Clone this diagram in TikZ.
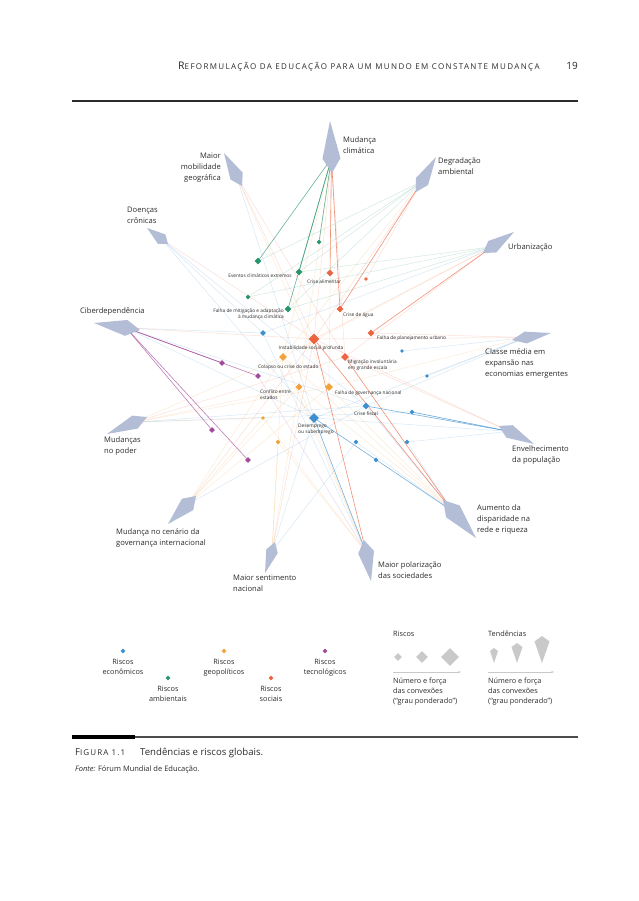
\documentclass[tikz,border=0pt]{standalone}
\usepackage{fontspec}
\setmainfont{Open Sans}
\usetikzlibrary{shapes.geometric, arrows.meta, positioning, calc}

\definecolor{coreco}{HTML}{3D8FCF}
\definecolor{coramb}{HTML}{27956B}
\definecolor{corgeo}{HTML}{F2A23A}
\definecolor{corsoc}{HTML}{EC6440}
\definecolor{cortec}{HTML}{A3489A}
\definecolor{cortend}{HTML}{B3BDD6}
\definecolor{corleg}{HTML}{C9C9C9}
\definecolor{cortexto}{HTML}{2B2B2B}

\pgfdeclarelayer{fundo}
\pgfdeclarelayer{linhas}
\pgfsetlayers{fundo,linhas,main}

% kite de tendência: nome, estilo, ponta, base, meia largura, fração
\newcommand{\tendencia}[6]{%
  \coordinate (#1) at ($#4!#6!#3$);
  \fill[#2] #3 -- ($#4!#6!#3!#5!90:#3$) -- #4 -- ($#4!#6!#3!#5!-90:#3$) -- cycle;
}
\newcommand{\versal}[4]{{\addfontfeature{LetterSpace=#4}\fontsize{#3}{12}\selectfont #1\fontsize{8}{10}\selectfont #2}}

\begin{document}
\begin{tikzpicture}[x=1pt, y=-1pt, text=cortexto,
    risco/.style = {diamond, inner sep=0pt, draw=none, minimum size=7pt},
    eco/.style = {risco, fill=coreco},
    amb/.style = {risco, fill=coramb},
    geo/.style = {risco, fill=corgeo},
    soc/.style = {risco, fill=corsoc},
    tec/.style = {risco, fill=cortec},
    tend/.style = {fill=cortend},
    rotulo/.style = {inner sep=0pt, font=\fontsize{7.6}{11}\selectfont, align=left},
    minirot/.style = {inner sep=0pt, font=\fontsize{4.8}{6}\selectfont, align=left},
    legtexto/.style = {inner sep=0pt, font=\fontsize{7.3}{10}\selectfont, align=center},
    fraco/.style = {line width=0.5pt, draw opacity=0.2},
    forte/.style = {line width=0.6pt, draw opacity=0.7},
    seta/.style = {corleg, line width=0.6pt, -{Stealth[length=3pt]}}
    ]

    \begin{pgfonlayer}{fundo}
      \fill[white] (0,0) rectangle (638,901);
    \end{pgfonlayer}
    \useasboundingbox (0,0) rectangle (638,901);

    % --- Cabeçalho ---
    \node[anchor=base west, inner sep=0pt] (titulo) at (178,70)
      {\versal{R}{EFORMULAÇÃO DA EDUCAÇÃO PARA UM MUNDO EM CONSTANTE MUDANÇA}{10.5}{17}};
    \node[anchor=base east, inner sep=0pt, font=\fontsize{10}{12}\selectfont] (pagina) at (578,70) {19};
    \draw[cortexto, line width=1.4pt] (72,101) -- (578,101);

    % --- Tendências ---
    \tendencia{clima}{tend}{(330,121)}{(332,173)}{9pt}{0.28}
    \tendencia{degrad}{tend}{(436,157)}{(416,192)}{7pt}{0.3}
    \tendencia{urban}{tend}{(514,232)}{(483,253)}{7pt}{0.3}
    \tendencia{classe}{tend}{(551,333)}{(512,340)}{6pt}{0.35}
    \tendencia{envelhec}{tend}{(534,444)}{(499,426)}{7pt}{0.3}
    \tendencia{aumento}{tend}{(476,538)}{(443,500)}{9pt}{0.3}
    \tendencia{polariz}{tend}{(371,581)}{(364,540)}{8pt}{0.3}
    \tendencia{sentimento}{tend}{(265,573)}{(275,542)}{6pt}{0.3}
    \tendencia{cenario}{tend}{(168,524)}{(196,496)}{8pt}{0.3}
    \tendencia{poder}{tend}{(107,434)}{(147,417)}{7pt}{0.3}
    \tendencia{ciber}{tend}{(94,323)}{(140,330)}{8pt}{0.3}
    \tendencia{doencas}{tend}{(147,228)}{(168,244)}{6pt}{0.3}
    \tendencia{mobilidade}{tend}{(224,153)}{(242,186)}{7pt}{0.3}

    \node[rotulo, anchor=north west] (rotClima) at (343,137) {Mudança\\climática};
    \node[rotulo, anchor=north west] (rotDegrad) at (438,158) {Degradação\\ambiental};
    \node[rotulo, anchor=north west] (rotUrban) at (508,244) {Urbanização};
    \node[rotulo, anchor=north west] (rotClasse) at (485,348) {Classe média em\\expansão nas\\economias emergentes};
    \node[rotulo, anchor=north west] (rotEnvelhec) at (512,446) {Envelhecimento\\da população};
    \node[rotulo, anchor=north west] (rotAumento) at (477,505) {Aumento da\\disparidade na\\rede e riqueza};
    \node[rotulo, anchor=north west] (rotPolariz) at (378,562) {Maior polarização\\das sociedades};
    \node[rotulo, anchor=north west] (rotSentimento) at (233,575) {Maior sentimento\\nacional};
    \node[rotulo, anchor=north west] (rotCenario) at (116,528) {Mudança no cenário da\\governança internacional};
    \node[rotulo, anchor=north west] (rotPoder) at (104,437) {Mudanças\\no poder};
    \node[rotulo, anchor=north west] (rotCiber) at (80,307) {Ciberdependência};
    \node[rotulo, anchor=north west] (rotDoencas) at (127,207) {Doenças\\crônicas};
    \node[rotulo, anchor=north east, align=right] (rotMobilidade) at (221,153) {Maior\\mobilidade\\geográfica};

    % --- Riscos ---
    % ambientais
    \node[amb] (amb1) at (258,261) {};
    \node[amb] (eventos) at (299,272) {};
    \node[amb, minimum size=5pt] (amb3) at (319,242) {};
    \node[amb, minimum size=5pt] (amb4) at (248,297) {};
    \node[amb] (mitigacao) at (288,309) {};
    % sociais
    \node[soc] (alimentar) at (330,273) {};
    \node[soc, minimum size=4pt] (soc2) at (366,279) {};
    \node[soc] (agua) at (340,309) {};
    \node[soc] (planej) at (371,333) {};
    \node[soc, minimum size=11pt] (instab) at (314,339) {};
    \node[soc, minimum size=8pt] (migracao) at (345,357) {};
    % geopolíticos
    \node[geo, minimum size=8pt] (colapso) at (283,357) {};
    \node[geo] (conflito) at (299,387) {};
    \node[geo, minimum size=8pt] (governanca) at (329,387) {};
    \node[geo, minimum size=4pt] (geo4) at (263,418) {};
    \node[geo, minimum size=5pt] (geo5) at (278,442) {};
    % econômicos
    \node[eco, minimum size=6pt] (eco1) at (263,333) {};
    \node[eco, minimum size=4pt] (eco2) at (402,351) {};
    \node[eco, minimum size=4pt] (eco3) at (427,376) {};
    \node[eco] (fiscal) at (366,406) {};
    \node[eco, minimum size=5pt] (eco5) at (412,412) {};
    \node[eco, minimum size=10pt] (desemprego) at (314,418) {};
    \node[eco, minimum size=5pt] (eco7) at (356,442) {};
    \node[eco, minimum size=5pt] (eco8) at (407,442) {};
    \node[eco, minimum size=5pt] (eco9) at (376,460) {};
    % tecnológicos
    \node[tec, minimum size=6pt] (tec1) at (222,363) {};
    \node[tec, minimum size=6pt] (tec2) at (258,376) {};
    \node[tec, minimum size=6pt] (tec3) at (212,430) {};
    \node[tec, minimum size=6pt] (tec4) at (248,460) {};

    \node[minirot, anchor=north] (rotEventos) at (260,273.5) {Eventos climáticos extremos};
    \node[minirot, anchor=north] (rotAlimentar) at (324,279.5) {Crise alimentar};
    \node[minirot, anchor=north east, align=right] (rotMitigacao) at (284,309) {Falha de mitigação e adaptação\\à mudança climática};
    \node[minirot, anchor=west] (rotAgua) at (343,315) {Crise de água};
    \node[minirot, anchor=west] (rotPlanej) at (377,338) {Falha de planejamento urbano};
    \node[minirot, below=1pt of instab, xshift=-3pt] (rotInstab) {Instabilidade social profunda};
    \node[minirot, anchor=west] (rotColapso) at (258,367) {Colapso ou crise do estado};
    \node[minirot, anchor=north west] (rotMigracao) at (348,360) {Migração involuntária\\em grande escala};
    \node[minirot, anchor=north west] (rotConflito) at (260,390) {Conflito entre\\estados};
    \node[minirot, anchor=west] (rotGovernanca) at (335,393) {Falha de governança nacional};
    \node[minirot, below=2pt of fiscal] (rotFiscal) {Crise fiscal};
    \node[minirot, anchor=north west] (rotDesemprego) at (298,424) {Desemprego\\ou subemprego};

    % --- Conexões ---
    \begin{pgfonlayer}{linhas}
      % ligações fracas
      \foreach \t/\r/\c in {mobilidade/instab/corsoc, mobilidade/migracao/corsoc, mobilidade/governanca/corgeo,
          mobilidade/desemprego/coreco, doencas/eco1/coreco, doencas/fiscal/coreco, doencas/desemprego/coreco,
          doencas/instab/corsoc, clima/colapso/corgeo, clima/conflito/corgeo, clima/governanca/corgeo,
          clima/migracao/corsoc, clima/instab/corsoc, degrad/amb1/coramb, degrad/amb4/coramb,
          degrad/eventos/coramb, degrad/mitigacao/coramb, degrad/soc2/corsoc, degrad/instab/corsoc,
          degrad/colapso/corgeo, urban/eventos/coramb, urban/amb4/coramb, urban/mitigacao/coramb,
          urban/instab/corsoc, urban/colapso/corgeo, urban/eco1/coreco, urban/migracao/corsoc,
          classe/eco2/coreco, classe/eco3/coreco, classe/instab/corsoc, classe/planej/corsoc,
          classe/governanca/corgeo, classe/desemprego/coreco, classe/fiscal/coreco,
          envelhec/eco5/coreco, envelhec/eco8/coreco, envelhec/instab/corsoc, envelhec/desemprego/coreco,
          envelhec/migracao/corsoc, aumento/colapso/corgeo, aumento/conflito/corgeo, aumento/eco7/coreco,
          aumento/eco8/coreco, aumento/governanca/corgeo, aumento/fiscal/coreco,
          polariz/colapso/corgeo, polariz/conflito/corgeo, polariz/eco1/coreco, polariz/geo4/corgeo,
          polariz/geo5/corgeo, polariz/tec2/cortec, sentimento/colapso/corgeo, sentimento/conflito/corgeo,
          sentimento/instab/corsoc, sentimento/desemprego/coreco, sentimento/geo5/corgeo, sentimento/eco7/coreco,
          cenario/colapso/corgeo, cenario/conflito/corgeo, cenario/governanca/corgeo, cenario/instab/corsoc,
          cenario/geo4/corgeo, cenario/fiscal/coreco, poder/colapso/corgeo, poder/conflito/corgeo,
          poder/governanca/corgeo, poder/geo4/corgeo, poder/migracao/corsoc, poder/fiscal/coreco,
          poder/eco5/coreco, ciber/eco1/coreco, ciber/instab/corsoc, ciber/desemprego/coreco, ciber/fiscal/coreco}
        \draw[fraco, draw=\c] (\t) -- (\r);

      % ligações fortes
      \foreach \t/\r/\c in {clima/amb1/coramb, clima/eventos/coramb, clima/amb3/coramb, clima/mitigacao/coramb,
          clima/alimentar/corsoc, clima/agua/corsoc, degrad/agua/corsoc, urban/planej/corsoc,
          ciber/tec1/cortec, ciber/tec2/cortec, ciber/tec3/cortec, ciber/tec4/cortec,
          instab/aumento/corsoc, migracao/aumento/corsoc, instab/polariz/corsoc,
          desemprego/aumento/coreco, desemprego/polariz/coreco, fiscal/envelhec/coreco, eco5/envelhec/coreco}
        \draw[forte, draw=\c] (\t) -- (\r);
    \end{pgfonlayer}

    % --- Legenda ---
    \node[eco, minimum size=5pt] (legEco) at (123,651) {};
    \node[amb, minimum size=5pt] (legAmb) at (168,678) {};
    \node[geo, minimum size=5pt] (legGeo) at (224,651) {};
    \node[soc, minimum size=5pt] (legSoc) at (271,678) {};
    \node[tec, minimum size=5pt] (legTec) at (325,651) {};
    \node[legtexto, below=5pt of legEco] (txtEco) {Riscos\\econômicos};
    \node[legtexto, below=5pt of legAmb] (txtAmb) {Riscos\\ambientais};
    \node[legtexto, below=5pt of legGeo] (txtGeo) {Riscos\\geopolíticos};
    \node[legtexto, below=5pt of legSoc] (txtSoc) {Riscos\\sociais};
    \node[legtexto, below=5pt of legTec] (txtTec) {Riscos\\tecnológicos};

    \node[legtexto, anchor=west] (legRiscos) at (393,634) {Riscos};
    \node[risco, fill=corleg, minimum size=8pt] (riscoP) at (398,657) {};
    \node[risco, fill=corleg, minimum size=12pt] (riscoM) at (422,657) {};
    \node[risco, fill=corleg, minimum size=18pt] (riscoG) at (450,657) {};
    \coordinate (setaRi1) at (393,672);
    \coordinate (setaRi2) at (461,672);
    \draw[seta] (setaRi1) -- (setaRi2);
    \node[legtexto, align=left, anchor=north west] (txtRiscos) at (393,678) {Número e força\\das convexões\\(“grau ponderado”)};

    \node[legtexto, anchor=west] (legTend) at (488,634) {Tendências};
    \tendencia{tendP}{fill=corleg}{(494,663)}{(494,648)}{4pt}{0.2}
    \tendencia{tendM}{fill=corleg}{(517,663)}{(517,643)}{5.5pt}{0.2}
    \tendencia{tendG}{fill=corleg}{(542,663)}{(542,636)}{7.5pt}{0.2}
    \coordinate (setaTe1) at (488,672);
    \coordinate (setaTe2) at (554,672);
    \draw[seta] (setaTe1) -- (setaTe2);
    \node[legtexto, align=left, anchor=north west] (txtTend) at (488,678) {Número e força\\das convexões\\(“grau ponderado”)};

    % --- Legenda da figura ---
    \draw[black!70, line width=1.3pt] (72,737) -- (578,737);
    \draw[black, line width=4pt] (72,737) -- (135,737);
    \node[anchor=base west, inner sep=0pt] (figura) at (75,755) {\versal{F}{IGURA 1.1}{9.5}{14}};
    \node[anchor=base west, inner sep=0pt, font=\fontsize{9.6}{11}\selectfont] (legenda) at (140,755) {Tendências e riscos globais.};
    \node[anchor=base west, inner sep=0pt, font=\fontsize{7.5}{9}\selectfont] (fonte) at (75,771) {\textit{Fonte:} Fórum Mundial de Educação.};

\end{tikzpicture}
\end{document}
